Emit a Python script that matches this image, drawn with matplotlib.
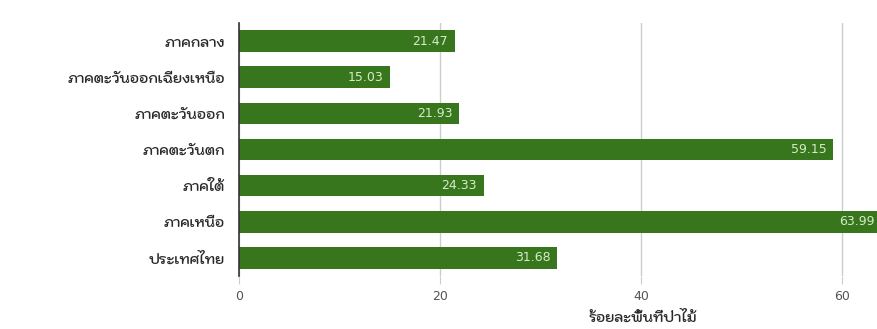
import matplotlib
matplotlib.use("Agg")
import matplotlib.pyplot as plt

categories = ["ภาคกลาง", "ภาคตะวันออกเฉียงเหนือ", "ภาคตะวันออก", "ภาคตะวันตก", "ภาคใต้", "ภาคเหนือ", "ประเทศไทย"]
values = [21.47, 15.03, 21.93, 59.15, 24.33, 63.99, 31.68]
xticks = [0, 20, 40, 60]
xlabel = "ร้อยละพื้นที่ป่าไม้"

thai_font = ["Kodchasan", "DejaVu Sans"]
num_font = ["DejaVu Sans"]
plt.rcParams['font.family'] = thai_font

W, H = 878, 329
fig = plt.figure(figsize=(W/100, H/100), dpi=100)
left, right = 239, 239 + 64 * 10.05
top, bottom = 23, 276
ax = fig.add_axes([left/W, 1 - bottom/H, (right-left)/W, (bottom-top)/H])

green = "#38761d"
ypos = list(range(len(categories)))
ax.barh(ypos, values, height=0.6, color=green, zorder=3)
ax.set_ylim(len(categories) - 0.5, -0.5)
ax.set_xlim(0, 64)
for y, v in zip(ypos, values):
    ax.text(v - 0.7, y, f"{v:.2f}", ha="right", va="center", color="#d4ecc8",
            fontsize=9, family=num_font, zorder=4)

ax.set_yticks(ypos)
ax.set_yticklabels(categories, fontsize=10, color="#2a2a2a", fontweight="semibold")
ax.tick_params(axis="y", length=0, pad=10)
ax.set_xticks(xticks)
ax.set_xticklabels([str(t) for t in xticks], fontsize=9, color="#555555", family=num_font)
ax.tick_params(axis="x", length=6, color="#cccccc", pad=4)
ax.xaxis.get_major_ticks()[0].tick1line.set_color("#333333")
ax.grid(axis="x", color="#cccccc", linewidth=1, zorder=0)
for s in ["top", "right", "bottom"]:
    ax.spines[s].set_visible(False)
ax.spines["left"].set_color("#333333")
ax.spines["left"].set_linewidth(1.2)
ax.spines["left"].set_zorder(5)

fig.text(643/W, 1 - 318/H, xlabel, ha="center", va="center", fontsize=10,
         color="#2a2a2a", fontweight="semibold")
fig.savefig("out.png", dpi=100)
